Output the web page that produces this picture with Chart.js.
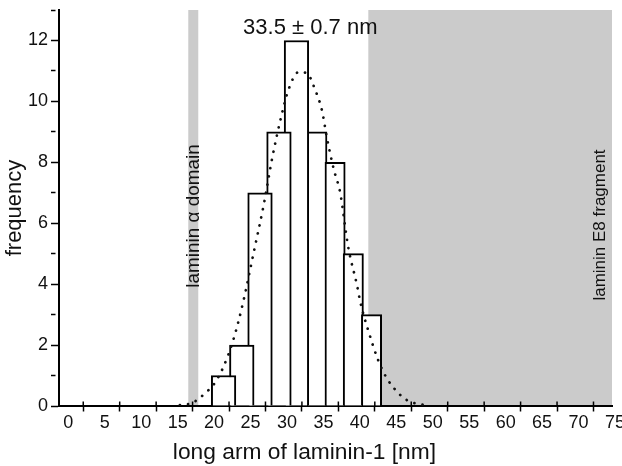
<!DOCTYPE html>
<html><head><meta charset="utf-8">
<script src="https://cdn.jsdelivr.net/npm/chart.js@4/dist/chart.umd.min.js"></script>
<style>html,body{margin:0;padding:0;background:#fff;}canvas{display:block;}</style>
</head><body>
<canvas id="c" width="622" height="466"></canvas>
<script>
// ---- data ----
const binCentersWide = [21.3, 23.8, 26.3, 28.9, 31.3];
const countsWide     = [1, 2, 7, 9, 12];
const binCentersNarrow = [34.1, 36.6, 39.1, 41.6];
const countsNarrow     = [9, 8, 5, 3];
const fitX = [15.3, 16.9, 17.8, 18.9, 19.9, 21.2, 22.6, 24.0, 25.4, 26.8, 28.0, 29.2, 30.2, 31.6, 32.7, 33.9, 34.8, 35.5, 36.4, 37.3, 38.4, 39.6, 40.1, 41.2, 42.5, 43.7, 45.3, 46.4, 47.7, 49.6];
const fitY = [0.03, 0.09, 0.22, 0.45, 0.69, 1.24, 2.14, 3.42, 5.00, 6.59, 8.17, 9.49, 10.38, 10.96, 10.93, 10.36, 9.70, 8.78, 7.79, 7.00, 5.22, 3.97, 3.37, 2.44, 1.51, 0.91, 0.42, 0.20, 0.08, 0.02];
const xTickLabels = [0, 5, 10, 15, 20, 25, 30, 35, 40, 45, 50, 55, 60, 65, 70, 75];
const xTickMarks  = [2.05, 7.05, 12.05, 17.05, 22.05, 27.05, 32.05, 37.05, 42.05, 47.05, 52.05, 57.05, 62.05, 67.05, 72.05];
const yTicks = [0, 1, 2, 3, 4, 5, 6, 7, 8, 9, 10, 11, 12, 13];
const bandStart  = [16.46, 41.16];
const bandEnd    = [17.83, 74.59];
const bandLabels = ['laminin \u03b1 domain', 'laminin E8 fragment'];
const peakLabel  = '33.5 \u00b1 0.7 nm';
const peakLabelX = 33.2;
const xTitle = 'long arm of laminin-1 [nm]';
const xTitleCenter = 32.4;
const yTitle = 'frequency';
const xMin = -1.276, xMax = 74.59, yMin = 0, yMax = 13;

Chart.defaults.font.family = '"Liberation Sans", Arial, sans-serif';
Chart.defaults.color = '#111';

const decor = {
  id: 'decor',
  beforeDraw(chart) {
    const {ctx, chartArea: a} = chart;
    const x = chart.scales.x;
    ctx.save();
    ctx.fillStyle = '#cbcbcb';
    for (let i = 0; i < bandStart.length; i++) {
      const l = x.getPixelForValue(bandStart[i]);
      const r = x.getPixelForValue(bandEnd[i]);
      ctx.fillRect(l, a.top, r - l, a.bottom - a.top);
    }
    ctx.restore();
  },
  afterDatasetsDraw(chart) {
    const {ctx, chartArea: a} = chart;
    const x = chart.scales.x;
    ctx.save();
    // inner half of the crossing x tick marks
    ctx.strokeStyle = '#000';
    ctx.lineWidth = 1.5;
    x.ticks.forEach((t, i) => {
      const px = x.getPixelForTick(i);
      ctx.beginPath();
      ctx.moveTo(px, a.bottom);
      ctx.lineTo(px, a.bottom - 4.5);
      ctx.stroke();
    });
    // band labels (rotated)
    ctx.fillStyle = '#111';
    ctx.textAlign = 'center';
    ctx.textBaseline = 'alphabetic';
    const bx = [
      (x.getPixelForValue(bandStart[0]) + x.getPixelForValue(bandEnd[0])) / 2 + 5.5,
      x.getPixelForValue(bandEnd[1]) - 7.5
    ];
    const by = [216, 225];
    const bs = [18, 17];
    const stretch = [1.05, 1.0];
    for (let i = 0; i < bandLabels.length; i++) {
      ctx.save();
      ctx.font = bs[i] + 'px "Liberation Sans", Arial, sans-serif';
      ctx.translate(bx[i], by[i]);
      ctx.rotate(-Math.PI / 2);
      ctx.scale(stretch[i], 1);
      ctx.fillText(bandLabels[i], 0, 0);
      ctx.restore();
    }
    // peak label
    ctx.font = '22px "Liberation Sans", Arial, sans-serif';
    ctx.fillText(peakLabel, x.getPixelForValue(peakLabelX), a.top + 23.5);
    // x axis title
    ctx.save();
    ctx.translate(x.getPixelForValue(xTitleCenter), 458.5);
    ctx.scale(1.035, 1);
    ctx.fillText(xTitle, 0, 0);
    ctx.restore();
    ctx.restore();
  }
};

new Chart(document.getElementById('c'), {
  type: 'bar',
  data: {
    datasets: [
      {
        type: 'line',
        data: fitX.map((v, i) => ({x: v, y: fitY[i]})),
        borderColor: '#111', borderWidth: 2.7,
        borderDash: [0.1, 8.2], borderCapStyle: 'round',
        pointRadius: 0, cubicInterpolationMode: 'monotone', fill: false,
        order: 0
      },
      {
        data: binCentersWide.map((v, i) => ({x: v, y: countsWide[i]})).reverse(),
        backgroundColor: '#fff', borderColor: '#000', borderWidth: 2,
        barThickness: 24.6, stack: 'h', order: 1
      },
      {
        data: binCentersNarrow.map((v, i) => ({x: v, y: countsNarrow[i]})),
        backgroundColor: '#fff', borderColor: '#000', borderWidth: 2,
        barThickness: 20.3, stack: 'h', order: 2
      }
    ]
  },
  options: {
    responsive: false,
    animation: false,
    layout: {padding: {left: 0, right: 10, top: 10, bottom: 0}},
    plugins: {legend: {display: false}, tooltip: {enabled: false}},
    scales: {
      x: {
        type: 'linear', position: 'bottom', min: xMin, max: xMax, offset: false, weight: 0,
        afterBuildTicks: s => { s.ticks = xTickMarks.map(v => ({value: v})); },
        afterFit: s => { s.height = 6; s.paddingLeft = 0; s.paddingRight = 0; },
        ticks: {display: false},
        grid: {offset: false, drawOnChartArea: false, drawTicks: true, tickLength: 5.5, tickWidth: 1.5, tickColor: '#000'},
        border: {display: true, color: '#000', width: 2}
      },
      xl: {
        type: 'linear', position: 'bottom', min: xMin, max: xMax, offset: false, weight: 1,
        afterBuildTicks: s => { s.ticks = xTickLabels.map(v => ({value: v})); },
        afterFit: s => { s.height = 54; s.paddingLeft = 0; s.paddingRight = 0; },
        ticks: {
          autoSkip: false, maxRotation: 0, minRotation: 0, padding: 0, color: '#111',
          font: {family: '"Liberation Sans Narrow", "Arial Narrow", "Liberation Sans", Arial, sans-serif', size: 18},
          callback: v => String(v)
        },
        grid: {display: false, drawTicks: false, offset: false},
        border: {display: false},
        title: {display: false}
      },
      y: {
        min: yMin, max: yMax, stacked: false,
        afterBuildTicks: s => { s.ticks = yTicks.map(v => ({value: v})); },
        afterFit: s => { s.width = 59; s.paddingTop = 0; s.paddingBottom = 0; },
        ticks: {autoSkip: false, padding: 3, color: '#111', font: {size: 18}, callback: v => (v % 2 === 0 ? String(v) : '')},
        grid: {
          drawOnChartArea: false, tickLength: 8, tickWidth: 1.5, tickColor: '#000',
          tickBorderDash: c => (c.tick && c.tick.value % 2 === 1) ? [4.5, 20] : []
        },
        border: {display: true, color: '#000', width: 2},
        title: {display: true, text: yTitle, color: '#111', font: {size: 22}, padding: {top: 2, bottom: 0}}
      }
    }
  },
  plugins: [decor]
});
</script>
</body></html>
